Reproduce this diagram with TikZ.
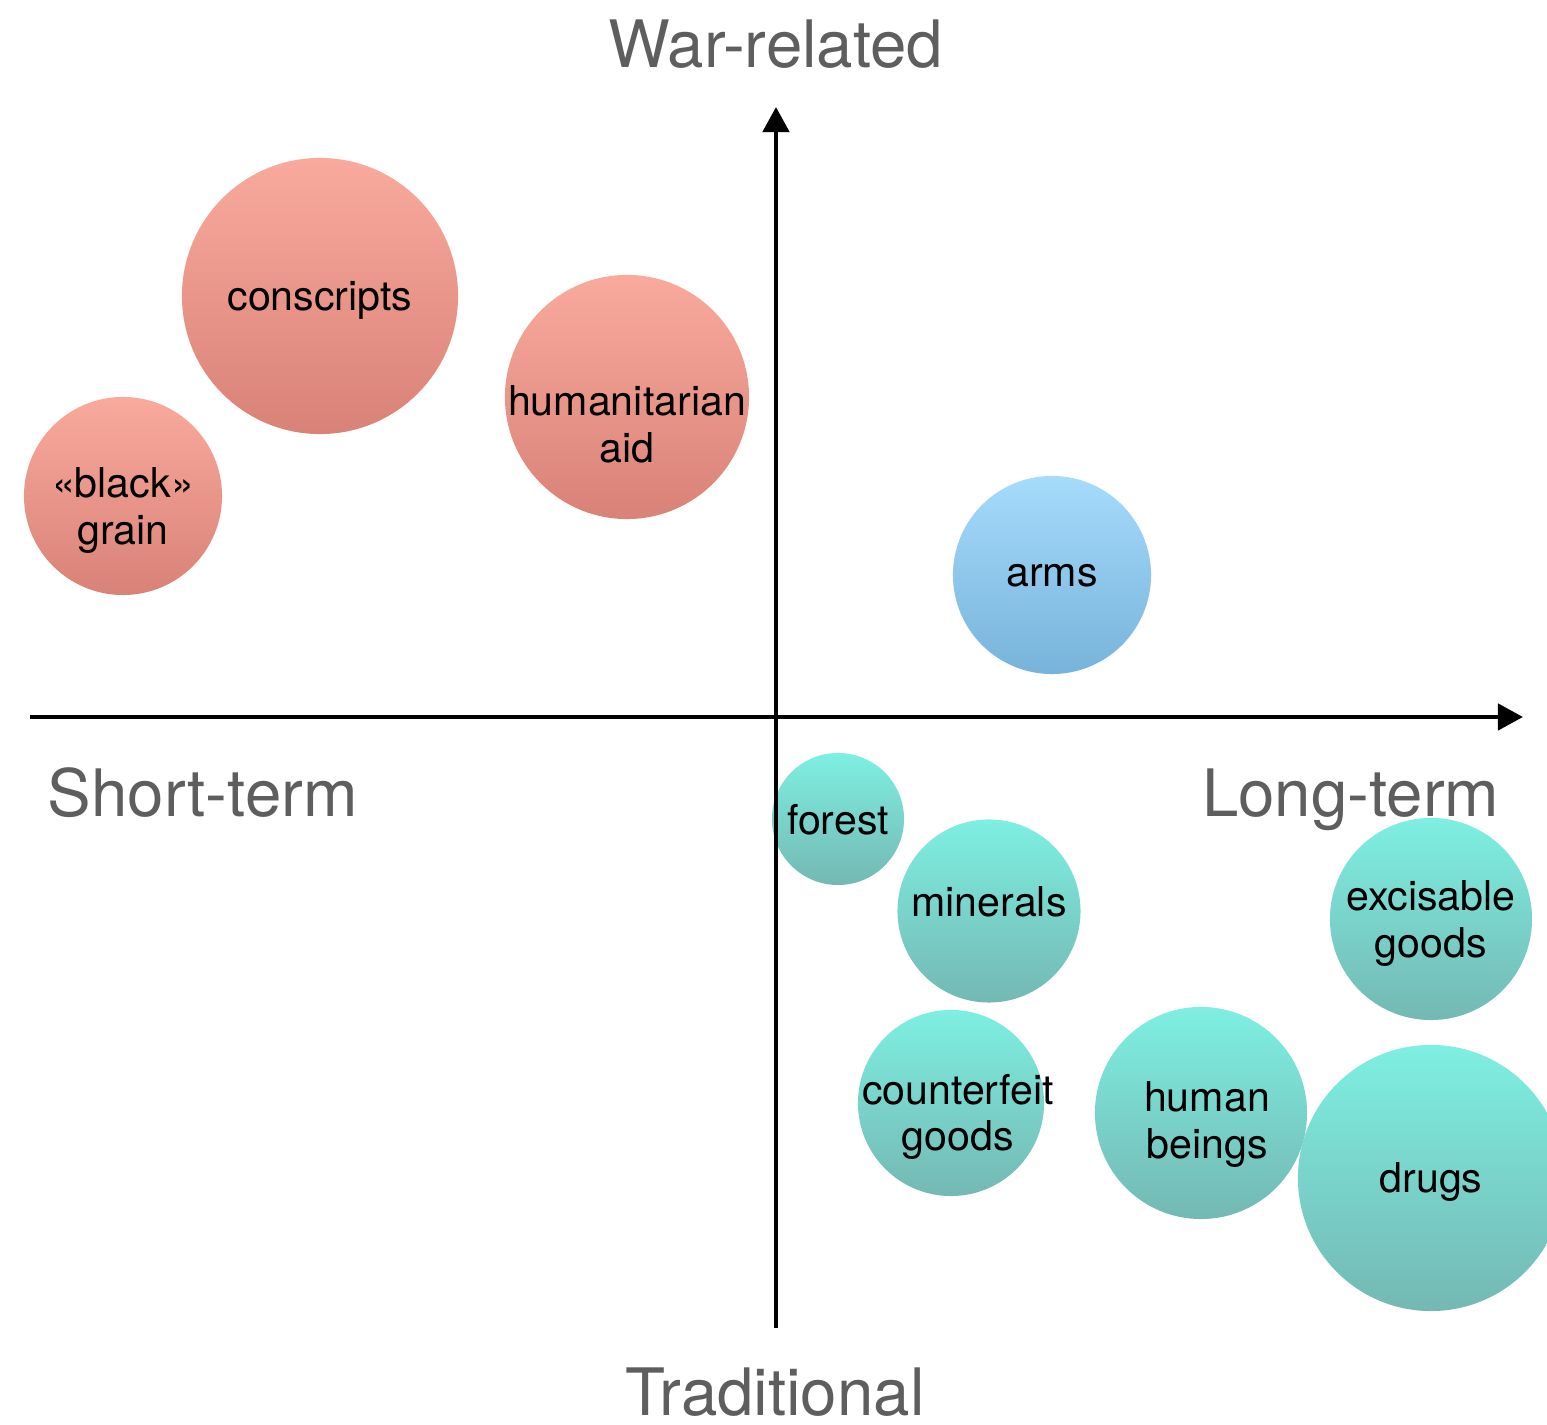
\documentclass[tikz,border=0pt]{standalone}
\usepackage{fontspec}
\setmainfont{TeX Gyre Heros}
\usetikzlibrary{arrows.meta}
\definecolor{warTop}{HTML}{F9AA9C}
\definecolor{warBottom}{HTML}{D98277}
\definecolor{tradTop}{HTML}{7EEFE2}
\definecolor{tradBottom}{HTML}{74B8B3}
\definecolor{armsTop}{HTML}{A6DBFC}
\definecolor{armsBottom}{HTML}{77B3DA}
\definecolor{axisGray}{HTML}{5E5E5E}
\begin{document}
\begin{tikzpicture}[x=0.01cm, y=-0.01cm,
  bubbletext/.style={align=center, inner sep=0pt, text depth=0pt,
    font=\fontsize{11.7}{13.1}\selectfont},
  bubble/.style={circle, bubbletext},
  war/.style={bubble, top color=warTop, bottom color=warBottom},
  trad/.style={bubble, top color=tradTop, bottom color=tradBottom},
  weapons/.style={bubble, top color=armsTop, bottom color=armsBottom},
  axis/.style={line width=0.045cm, -{Triangle[length=0.25cm, width=0.26cm]}},
  axislabel/.style={text=axisGray, inner sep=0pt, anchor=base,
    font=\fontsize{18.6}{21}\selectfont}]
\useasboundingbox (0,0) rectangle (1547,1425);
\clip (0,0) rectangle (1547,1425);

% war-related
\node[war, minimum size=2.76cm] (conscripts) at (320,296) {conscripts};
\node[war, minimum size=1.98cm,
  label={[bubbletext, yshift=-0.1cm]center:«black»\\grain}] (grain) at (123,496) {};
\node[war, minimum size=2.44cm,
  label={[bubbletext, yshift=-0.27cm]center:humanitarian\\aid}] (aid) at (627,397) {};
\node[weapons, minimum size=1.98cm] (arms) at (1052,575) {arms};

% traditional
\node[trad, minimum size=1.32cm] (forest) at (838,819) {forest};
\node[trad, minimum size=1.83cm,
  label={[bubbletext, yshift=0.09cm]center:minerals}] (minerals) at (989,911) {};
\node[trad, minimum size=2.02cm] (excisable) at (1431,919) {excisable\\goods};
\node[trad, minimum size=1.86cm,
  label={[bubbletext, xshift=0.07cm, yshift=-0.09cm]center:counterfeit\\goods}] (counterfeit) at (951,1103) {};
\node[trad, minimum size=2.12cm,
  label={[bubbletext, xshift=0.06cm, yshift=-0.07cm]center:human\\beings}] (humans) at (1201,1113) {};
\node[trad, minimum size=2.66cm] (drugs) at (1431,1178) {drugs};

% axes
\coordinate (west) at (30,717);
\coordinate (east) at (1523,717);
\coordinate (south) at (776,1328);
\coordinate (north) at (776,107);
\foreach \from/\to in {west/east, south/north}
\draw[axis] (\from) -- (\to);

\node[axislabel] (war) at (776,68) {War-related};
\node[axislabel] (traditional) at (775,1416) {Traditional};
\node[axislabel, anchor=base west] (short) at (47,817) {Short-term};
\node[axislabel, anchor=base east] (long) at (1500,817) {Long-term};
\end{tikzpicture}
\end{document}
